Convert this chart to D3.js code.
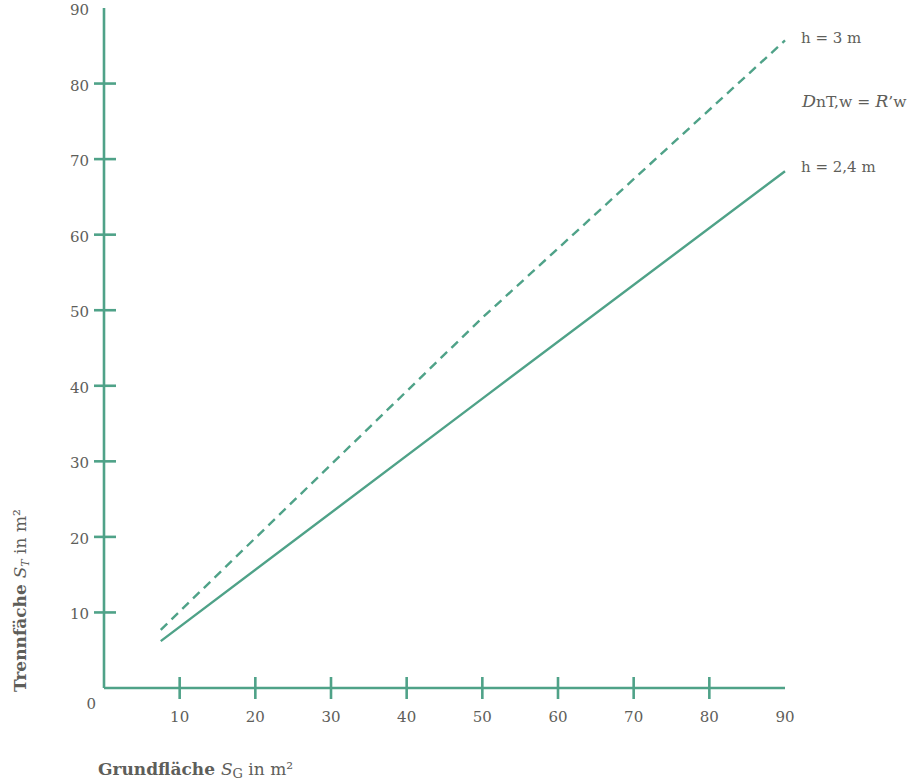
<!DOCTYPE html>
<html>
<head>
<meta charset="utf-8">
<script src="https://cdn.jsdelivr.net/npm/d3@7"></script>
<style>
  body { margin: 0; background: #fff; }
  text { font-family: "DejaVu Serif", "Liberation Serif", serif; fill: #5e5e5a; }
</style>
</head>
<body>
<svg class="chart" width="919" height="783"></svg>
<script>
// values
const xTicks = [10, 20, 30, 40, 50, 60, 70, 80, 90];
const yTicks = [10, 20, 30, 40, 50, 60, 70, 80, 90];
const solidX = [7.5, 50, 90];
const solidY = [6.2, 38.3, 68.4];
const dashedX = [7.5, 50, 90];
const dashedY = [7.7, 49.0, 85.7];

(function lineChartIIFE(){
    let svg = d3.select("svg.chart");
    const green = "#4fa288";

    // scales
    let x = d3.scaleLinear().domain([0, 90]).range([104, 785]),
        y = d3.scaleLinear().domain([0, 90]).range([688, 8]);

    // x axis
    let gx = svg.append("g");
    gx.append("line")
        .attr("x1", x(0)).attr("x2", x(90))
        .attr("y1", y(0)).attr("y2", y(0))
        .attr("stroke", green).attr("stroke-width", 2.6);
    gx.selectAll(".xtick")
        .data(xTicks.slice(0, -1))
        .enter().append("line")
        .attr("x1", d => x(d)).attr("x2", d => x(d))
        .attr("y1", y(0) - 11).attr("y2", y(0) + 11)
        .attr("stroke", green).attr("stroke-width", 2.6);
    gx.selectAll(".xlabel")
        .data(xTicks)
        .enter().append("text")
        .attr("x", d => x(d)).attr("y", y(0) + 34)
        .attr("text-anchor", "middle")
        .style("font-size", "15px")
        .text(d => d);

    // y axis
    let gy = svg.append("g");
    gy.append("line")
        .attr("x1", x(0)).attr("x2", x(0))
        .attr("y1", y(0)).attr("y2", y(90))
        .attr("stroke", green).attr("stroke-width", 2.6);
    gy.selectAll(".ytick")
        .data(yTicks.slice(0, -1))
        .enter().append("line")
        .attr("x1", x(0) - 10).attr("x2", x(0) + 12)
        .attr("y1", d => y(d)).attr("y2", d => y(d))
        .attr("stroke", green).attr("stroke-width", 2.6);
    gy.selectAll(".ylabel")
        .data(yTicks)
        .enter().append("text")
        .attr("x", x(0) - 15).attr("y", d => y(d) + 7)
        .attr("text-anchor", "end")
        .style("font-size", "15px")
        .text(d => d);
    svg.append("text")
        .attr("x", x(0) - 8).attr("y", y(0) + 21)
        .attr("text-anchor", "end")
        .style("font-size", "15px")
        .text("0");

    // lines
    let line = d3.line().x(d => x(d[0])).y(d => y(d[1]));
    svg.append("path")
        .datum(solidX.map((v, i) => [v, solidY[i]]))
        .attr("d", line)
        .attr("fill", "none").attr("stroke", green).attr("stroke-width", 2.4);
    svg.append("path")
        .datum(dashedX.map((v, i) => [v, dashedY[i]]))
        .attr("d", line)
        .attr("fill", "none").attr("stroke", green).attr("stroke-width", 2.4)
        .attr("stroke-dasharray", "9,6");

    // labels at line ends
    svg.append("text").attr("x", 801).attr("y", 43)
        .style("font-size", "15px").text("h = 3 m");
    let eq = svg.append("text").attr("x", 802).attr("y", 107).style("font-size", "15.5px");
    eq.append("tspan").style("font-style", "italic").style("font-size", "17.5px").text("D");
    eq.append("tspan").text("nT,w = ");
    eq.append("tspan").style("font-style", "italic").style("font-size", "17.5px").text("R");
    eq.append("tspan").text("’w");
    svg.append("text").attr("x", 801).attr("y", 172)
        .style("font-size", "15px").text("h = 2,4 m");

    // axis titles
    let xt = svg.append("text").attr("x", 98).attr("y", 775)
        .style("font-size", "17px").style("font-weight", "bold");
    xt.append("tspan").text("Grundfläche ");
    xt.append("tspan").style("font-weight", "normal").style("font-style", "italic").text("S");
    xt.append("tspan").style("font-weight", "normal").style("font-size", "13px").attr("dy", 3).text("G");
    xt.append("tspan").style("font-weight", "normal").attr("dy", -3).text(" in m²");

    let yt = svg.append("text")
        .attr("transform", "translate(26,692) rotate(-90)")
        .style("font-size", "17px").style("font-weight", "bold");
    yt.append("tspan").text("Trennfäche ");
    yt.append("tspan").style("font-weight", "normal").style("font-style", "italic").text("S");
    yt.append("tspan").style("font-weight", "normal").style("font-style", "italic").style("font-size", "11px").attr("dy", 3).text("T");
    yt.append("tspan").style("font-weight", "normal").attr("dy", -3).text(" in m²");
})();
</script>
</body>
</html>
